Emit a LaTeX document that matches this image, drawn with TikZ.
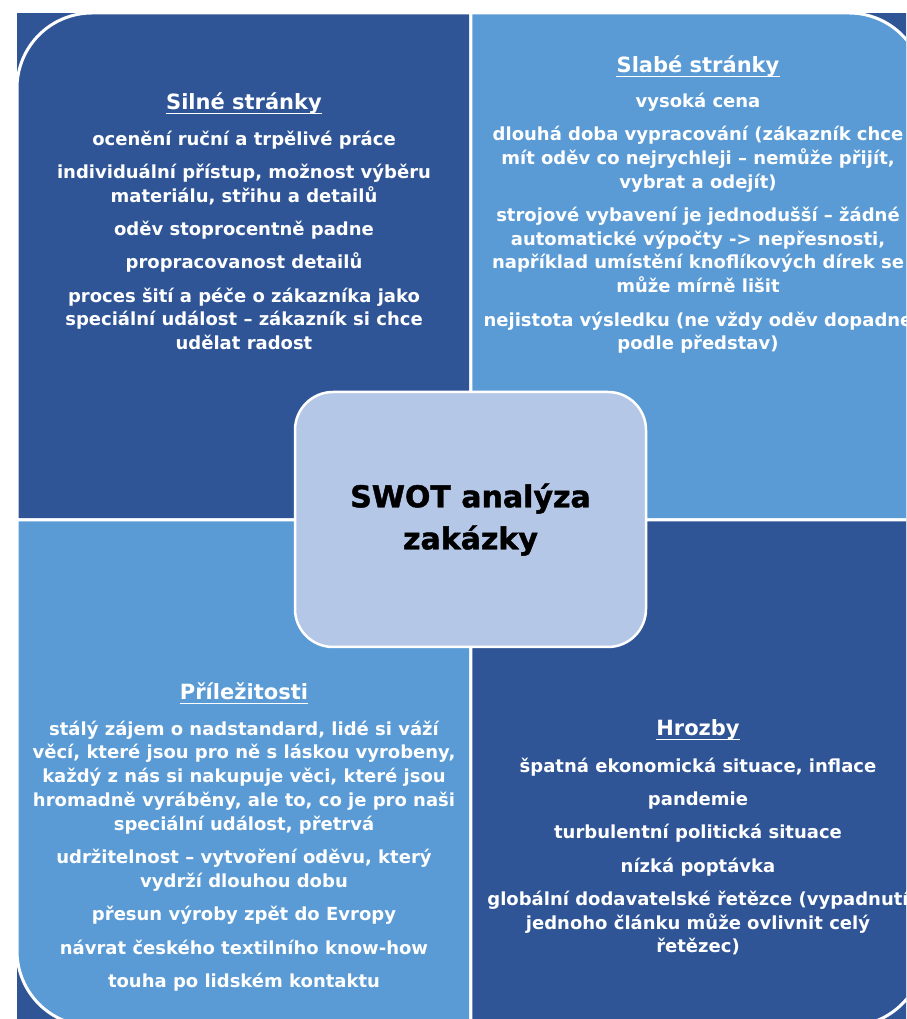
\documentclass[tikz,border=0pt]{standalone}
\usepackage{fontspec}
\setmainfont{DejaVu Sans}
\newfontfamily\heavyfont[BoldFeatures={FakeBold=1.5}]{DejaVu Sans}
\definecolor{darkq}{HTML}{2F5597}
\definecolor{lightq}{HTML}{5B9BD5}
\definecolor{centerq}{HTML}{B4C7E7}
\newcommand{\topstrut}{\rule{0pt}{18pt}}
\tikzset{
  quad/.style={draw=white, line width=3pt},
  body/.style={text=white, font=\bfseries\fontsize{18}{23.8}\selectfont, align=center, inner sep=0pt, anchor=north},
  head/.style={text=white, font=\bfseries\fontsize{21}{25}\selectfont, inner sep=0pt, anchor=base},
  uline/.style={draw=white, line width=1.6pt},
  centerbox/.style={draw=white, line width=2.5pt, fill=centerq, rounded corners=38pt,
    minimum width=351pt, minimum height=255pt, align=center, text=black,
    font=\heavyfont\bfseries\fontsize{30}{42}\selectfont},
}
\begin{document}
\begin{tikzpicture}[x=1pt,y=1pt]
\useasboundingbox (0,0) rectangle (906,1019);
\clip (0,0) rectangle (906,1019);
\fill[white] (0,0) rectangle (906,1019);
\fill[darkq] (17,-30) rectangle (950,1006);
% quadrants
\draw[quad, fill=darkq] (17,499.2) -- (17,931) arc[start angle=180,end angle=90,radius=75] -- (470.8,1006) -- (470.8,499.2) -- cycle;
\draw[quad, fill=lightq] (470.8,499.2) -- (470.8,1006) -- (849,1006) arc[start angle=90,end angle=0,radius=75] -- (924,499.2) -- cycle;
\draw[quad, fill=lightq] (17,499.2) -- (470.8,499.2) -- (470.8,-7) -- (92,-7) arc[start angle=270,end angle=180,radius=75] -- cycle;
\draw[quad, fill=darkq] (470.8,499.2) -- (924,499.2) -- (924,68) arc[start angle=0,end angle=-90,radius=75] -- (470.8,-7) -- cycle;
% center
\node[centerbox] (swot) at (470.5,499.5) {SWOT analýza\\zakázky};
% strengths
\node[head] (sh) at (244,909) {Silné stránky};
\draw[uline] ([yshift=-3.5pt]sh.base west) -- ([yshift=-3.5pt]sh.base east);
\node[body] (sb) at (244,892) {\topstrut ocenění ruční a trpělivé práce\\[9.5pt]
individuální přístup, možnost výběru\\materiálu, střihu a detailů\\[9.5pt]
oděv stoprocentně padne\\[9.5pt]
propracovanost detailů\\[9.5pt]
proces šití a péče o zákazníka jako\\speciální událost – zákazník si chce\\udělat radost};
% weaknesses
\node[head] (wh) at (698,946) {Slabé stránky};
\draw[uline] ([yshift=-3.5pt]wh.base west) -- ([yshift=-3.5pt]wh.base east);
\node[body] (wb) at (698,930) {\topstrut vysoká cena\\[9.5pt]
dlouhá doba vypracování (zákazník chce\\mít oděv co nejrychleji – nemůže přijít,\\vybrat a odejít)\\[9.5pt]
strojové vybavení je jednodušší – žádné\\automatické výpočty -> nepřesnosti,\\například umístění knoflíkových dírek se\\může mírně lišit\\[9.5pt]
nejistota výsledku (ne vždy oděv dopadne\\podle představ)};
% opportunities
\node[head] (oh) at (244,319) {Příležitosti};
\draw[uline] ([yshift=-3.5pt]oh.base west) -- ([yshift=-3.5pt]oh.base east);
\node[body] (ob) at (244,302) {\topstrut stálý zájem o nadstandard, lidé si váží\\věcí, které jsou pro ně s láskou vyrobeny,\\každý z nás si nakupuje věci, které jsou\\hromadně vyráběny, ale to, co je pro naši\\speciální událost, přetrvá\\[9.5pt]
udržitelnost – vytvoření oděvu, který\\vydrží dlouhou dobu\\[9.5pt]
přesun výroby zpět do Evropy\\[9.5pt]
návrat českého textilního know-how\\[9.5pt]
touha po lidském kontaktu};
% threats
\node[head] (th) at (698,283) {Hrozby};
\draw[uline] ([yshift=-3.5pt]th.base west) -- ([yshift=-3.5pt]th.base east);
\node[body] (tb) at (698,265) {\topstrut špatná ekonomická situace, inflace\\[9.5pt]
pandemie\\[9.5pt]
turbulentní politická situace\\[9.5pt]
nízká poptávka\\[9.5pt]
globální dodavatelské řetězce (vypadnutí\\jednoho článku může ovlivnit celý\\řetězec)};
\end{tikzpicture}
\end{document}
